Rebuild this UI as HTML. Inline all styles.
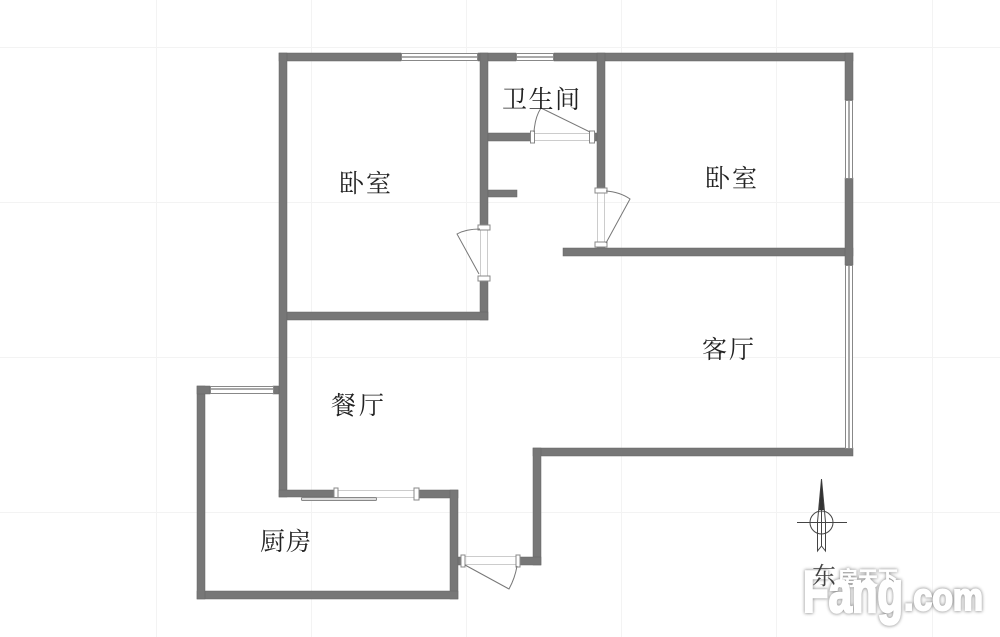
<!DOCTYPE html>
<html><head><meta charset="utf-8">
<style>
html,body{margin:0;padding:0;background:#fff;width:1000px;height:637px;overflow:hidden}
svg{display:block}
.t{font-family:"Liberation Serif","Noto Serif CJK SC",serif;font-size:25px;fill:#222}
</style></head>
<body>
<svg width="1000" height="637" viewBox="0 0 1000 637" xmlns="http://www.w3.org/2000/svg">
<defs>
<filter id="sh" x="-10%" y="-20%" width="120%" height="140%"><feGaussianBlur stdDeviation="1.6"/></filter>
</defs>
<!-- grid -->
<g stroke="#f3f3f3" stroke-width="1">
<path d="M156.500 0V637M311.500 0V637M466.500 0V637M621.500 0V637M776.500 0V637M932.500 0V637"/>
<path d="M0 47.500H1000M0 202.500H1000M0 357.500H1000M0 512.500H1000"/>
</g>
<!-- walls -->
<g fill="#777" stroke="#666" stroke-width="0.500">
<rect x="279" y="53" width="122" height="8"/>
<rect x="478" y="53" width="38" height="8"/>
<rect x="554" y="53" width="299" height="8"/>
<rect x="279" y="53" width="8" height="444"/>
<rect x="480" y="53" width="8" height="172"/>
<rect x="480" y="280" width="8" height="40"/>
<rect x="287" y="312" width="201" height="8"/>
<rect x="488" y="133" width="45" height="8"/>
<rect x="591" y="133" width="6" height="8"/>
<rect x="488" y="190" width="29" height="7"/>
<rect x="597" y="53" width="8" height="139"/>
<rect x="597" y="244" width="8" height="5"/>
<rect x="563" y="248" width="290" height="8"/>
<rect x="845" y="53" width="8" height="47"/>
<rect x="845" y="178" width="8" height="87"/>
<rect x="533" y="448" width="320" height="8"/>
<rect x="533" y="448" width="8" height="117"/>
<rect x="518" y="557" width="23" height="8"/>
<rect x="279" y="490" width="58" height="7"/>
<rect x="417" y="490" width="41" height="8"/>
<rect x="450" y="490" width="8" height="109"/>
<rect x="197" y="591" width="261" height="8"/>
<rect x="197" y="386" width="8" height="213"/>
<rect x="197" y="386" width="13" height="8"/>
<rect x="273" y="386" width="6" height="8"/>
<rect x="458" y="557" width="4" height="8"/>
</g>
<!-- windows -->
<g fill="#fff" stroke="#888" stroke-width="1">
<rect x="401.500" y="53.500" width="76" height="7"/>
<rect x="516.500" y="53.500" width="37" height="7"/>
<rect x="845.500" y="100.500" width="7" height="78"/>
<rect x="845.500" y="265.500" width="7" height="183"/>
<rect x="210.500" y="386.500" width="63" height="7"/>
</g>
<g fill="#aaa" stroke="none">
<rect x="402" y="56" width="75" height="2"/>
<rect x="517" y="56" width="36" height="2"/>
<rect x="848" y="101" width="2" height="77"/>
<rect x="848" y="266" width="2" height="182"/>
<rect x="211" y="388" width="62" height="2"/>
</g>
<!-- door openings -->
<g fill="none" stroke="#ccc" stroke-width="1">
<path d="M534 133.500H590M534 140.500H590"/>
<path d="M597.500 193V243M604.500 193V243"/>
<path d="M480.500 229V276M487.500 229V276"/>
<path d="M338 490.500H417M338 497.500H417"/>
<path d="M463 556.500H516M463 564.500H516"/>
</g>
<!-- door frames -->
<g fill="#fff" stroke="#888" stroke-width="1">
<rect x="530.500" y="131" width="4" height="12"/>
<rect x="589.500" y="131" width="5" height="12"/>
<rect x="595" y="188" width="12" height="5"/>
<rect x="595" y="242" width="12" height="5"/>
<rect x="478" y="225" width="12" height="5"/>
<rect x="478" y="276" width="12" height="5"/>
<rect x="334" y="488" width="4" height="10"/>
<rect x="414" y="488" width="5" height="12"/>
<rect x="461" y="555" width="4" height="12"/>
<rect x="516" y="555" width="4" height="12"/>
</g>
<rect x="301.500" y="497.500" width="75" height="3" rx="1" fill="#ddd" stroke="#888"/>
<!-- door swings -->
<g fill="none" stroke="#777" stroke-width="1">
<path d="M541 108L590 132"/>
<path d="M534 132Q535 117 541 108"/>
<path d="M606 191Q620 192 630 199L606 243"/>
<path d="M479 274L457 234Q466 229 480 229"/>
<path d="M465 565L509 589Q515 578 517 566"/>
</g>
<!-- labels -->
<text class="t" x="339" y="192" textLength="52" lengthAdjust="spacing">卧室</text>
<text class="t" x="705" y="187" textLength="52" lengthAdjust="spacing">卧室</text>
<text class="t" x="502" y="108" textLength="78" lengthAdjust="spacing">卫生间</text>
<text class="t" x="702" y="358" textLength="52" lengthAdjust="spacing">客厅</text>
<text class="t" x="331" y="414" textLength="53" lengthAdjust="spacing">餐厅</text>
<text class="t" x="260" y="550" textLength="51" lengthAdjust="spacing">厨房</text>
<!-- north arrow -->
<g fill="none" stroke="#444" stroke-width="1">
<circle cx="821.500" cy="522.500" r="11.500"/>
<path d="M797 522.500H847"/>
<path d="M817.500 551V522L821.500 479L825.500 522V551L821.500 546Z"/>
<path d="M821.500 510V546"/>
</g>
<path d="M819 510L821.500 479L824 510Z" fill="#333"/>
<!-- watermark -->
<g font-family="'Liberation Sans',sans-serif" font-weight="bold" fill="#777" stroke="#777" filter="url(#sh)" opacity=".8">
<text x="803" y="612" font-size="58" textLength="100" lengthAdjust="spacingAndGlyphs" stroke-width="3.500">Fang</text>
<text x="904" y="610" font-size="38" textLength="79" lengthAdjust="spacingAndGlyphs" stroke-width="3">.com</text>
<text x="838" y="585" font-size="20" stroke-width="1" font-family="'Liberation Sans','Noto Sans CJK SC',sans-serif">房天下</text>
</g>
<g font-family="'Liberation Sans',sans-serif" font-weight="bold" fill="#fff" stroke="#fff">
<text x="803" y="612" font-size="58" textLength="100" lengthAdjust="spacingAndGlyphs" stroke-width="2.500">Fang</text>
<text x="904" y="610" font-size="38" textLength="79" lengthAdjust="spacingAndGlyphs" stroke-width="2">.com</text>
<text x="838" y="585" font-size="20" stroke-width="0.300" font-family="'Liberation Sans','Noto Sans CJK SC',sans-serif">房天下</text>
</g>
<text class="t" x="812" y="584" style="font-size:24px" opacity=".85">东</text>
</svg>
</body></html>
